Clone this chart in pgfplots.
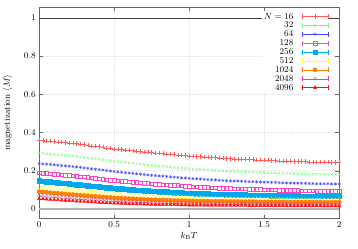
\documentclass[border=0pt]{standalone}
\usepackage{pgfplots}
\pgfplotsset{compat=1.18}
\usepackage{pgfplotstable}
\definecolor{c16}{HTML}{FF5A5A}
\definecolor{c32}{HTML}{70FF70}
\definecolor{c64}{HTML}{4848FF}
\definecolor{c128}{HTML}{FF40C0}
\definecolor{c256}{HTML}{00A8EC}
\definecolor{c512}{HTML}{FFFF38}
\definecolor{c1024}{HTML}{FF8000}
\definecolor{c2048}{HTML}{D84A90}
\definecolor{c4096}{HTML}{FF1010}
\pgfplotstableread{
T m16 m32 m64 m128 m256 m512 m1024 m2048 m4096
0.000 .360 .292 .238 .190 .148 .116 .090 .070 .054
0.025 .358 .291 .236 .188 .146 .114 .089 .069 .053
0.050 .356 .289 .234 .186 .144 .112 .087 .067 .051
0.075 .355 .287 .233 .185 .142 .110 .085 .066 .050
0.100 .353 .285 .231 .183 .140 .108 .083 .064 .049
0.125 .351 .284 .229 .181 .138 .107 .082 .063 .048
0.150 .349 .282 .227 .179 .136 .105 .080 .061 .046
0.175 .348 .280 .226 .178 .134 .103 .078 .060 .045
0.200 .346 .278 .224 .176 .132 .101 .076 .058 .044
0.225 .344 .277 .222 .174 .130 .099 .075 .057 .043
0.250 .342 .275 .220 .172 .128 .097 .073 .055 .041
0.275 .340 .273 .218 .170 .126 .096 .072 .054 .040
0.300 .337 .270 .215 .168 .124 .094 .070 .053 .039
0.325 .334 .268 .213 .166 .122 .092 .069 .052 .038
0.350 .331 .265 .210 .163 .120 .090 .067 .050 .037
0.375 .329 .263 .208 .161 .118 .089 .066 .049 .036
0.400 .326 .260 .206 .159 .116 .087 .064 .048 .034
0.425 .323 .258 .204 .157 .114 .085 .063 .047 .033
0.450 .320 .255 .201 .154 .112 .083 .061 .045 .032
0.475 .318 .253 .199 .152 .110 .082 .060 .044 .031
0.500 .315 .250 .196 .150 .108 .080 .058 .043 .030
0.525 .313 .248 .194 .148 .107 .079 .057 .042 .030
0.550 .311 .246 .192 .146 .105 .077 .056 .041 .029
0.575 .309 .244 .190 .145 .104 .076 .055 .041 .029
0.600 .307 .241 .188 .143 .102 .075 .054 .040 .028
0.625 .305 .239 .186 .141 .101 .074 .053 .039 .027
0.650 .303 .237 .184 .139 .099 .072 .052 .038 .026
0.675 .301 .235 .182 .138 .098 .071 .051 .038 .026
0.700 .299 .232 .180 .136 .096 .070 .050 .037 .025
0.725 .297 .230 .178 .134 .095 .069 .049 .036 .025
0.750 .295 .228 .176 .132 .093 .067 .048 .035 .024
0.775 .294 .226 .175 .131 .092 .066 .048 .035 .024
0.800 .292 .224 .173 .129 .091 .065 .047 .034 .023
0.825 .290 .223 .172 .128 .090 .065 .047 .034 .023
0.850 .288 .221 .170 .126 .089 .064 .046 .033 .022
0.875 .287 .219 .168 .125 .088 .063 .045 .033 .022
0.900 .285 .217 .166 .124 .086 .062 .044 .032 .022
0.925 .283 .216 .165 .123 .085 .061 .044 .032 .022
0.950 .281 .214 .163 .121 .084 .060 .043 .031 .021
0.975 .280 .212 .162 .120 .083 .060 .043 .031 .021
1.000 .278 .210 .160 .118 .082 .059 .042 .030 .020
1.025 .277 .209 .159 .117 .082 .059 .042 .030 .020
1.050 .275 .208 .158 .116 .081 .058 .041 .030 .020
1.075 .274 .207 .157 .115 .081 .058 .041 .030 .020
1.100 .273 .205 .155 .114 .080 .057 .041 .029 .019
1.125 .272 .204 .154 .113 .079 .056 .041 .029 .019
1.150 .270 .203 .153 .112 .078 .055 .040 .029 .019
1.175 .269 .202 .152 .111 .078 .055 .040 .029 .019
1.200 .268 .200 .150 .110 .077 .054 .040 .028 .018
1.225 .267 .199 .149 .109 .077 .054 .040 .028 .018
1.250 .265 .198 .148 .108 .076 .053 .039 .028 .018
1.275 .264 .197 .147 .108 .076 .053 .039 .028 .018
1.300 .263 .196 .146 .107 .075 .052 .039 .028 .018
1.325 .262 .196 .146 .106 .075 .052 .039 .028 .018
1.350 .261 .195 .145 .105 .074 .052 .038 .028 .018
1.375 .260 .194 .144 .105 .074 .052 .038 .028 .018
1.400 .259 .193 .143 .104 .073 .051 .038 .027 .017
1.425 .258 .192 .143 .103 .073 .051 .038 .027 .017
1.450 .257 .191 .142 .102 .072 .051 .037 .027 .017
1.475 .256 .191 .141 .102 .072 .051 .037 .027 .017
1.500 .255 .190 .140 .101 .071 .050 .037 .027 .017
1.525 .255 .190 .140 .101 .071 .050 .037 .027 .017
1.550 .254 .189 .139 .100 .070 .050 .037 .027 .017
1.575 .253 .189 .139 .100 .070 .050 .037 .027 .017
1.600 .252 .188 .138 .099 .070 .049 .037 .026 .017
1.625 .252 .187 .137 .099 .070 .049 .037 .026 .017
1.650 .251 .186 .136 .098 .069 .049 .036 .026 .016
1.675 .250 .186 .136 .098 .069 .049 .036 .026 .016
1.700 .249 .185 .135 .097 .069 .048 .036 .026 .016
1.725 .249 .185 .135 .097 .069 .048 .036 .026 .016
1.750 .248 .184 .134 .096 .068 .048 .036 .026 .016
1.775 .248 .184 .134 .096 .068 .048 .036 .026 .016
1.800 .247 .183 .133 .095 .068 .048 .036 .026 .016
1.825 .247 .183 .133 .095 .068 .048 .036 .026 .016
1.850 .246 .182 .132 .094 .067 .048 .036 .026 .016
1.875 .246 .182 .132 .094 .067 .048 .036 .026 .016
1.900 .245 .182 .132 .094 .067 .047 .035 .025 .015
1.925 .245 .182 .132 .094 .067 .047 .035 .025 .015
1.950 .244 .181 .131 .093 .066 .047 .035 .025 .015
1.975 .244 .181 .131 .093 .066 .047 .035 .025 .015
2.000 .243 .180 .130 .092 .066 .047 .035 .025 .015
}\datatable
\begin{document}
\begin{tikzpicture}
\begin{axis}[
  scale only axis,
  width=302bp, height=213bp,
  xmin=0, xmax=2, ymin=-0.05, ymax=1.057,
  xtick={0,0.5,1,1.5,2},
  ytick={0,0.2,0.4,0.6,0.8,1},
  yticklabels={0,0.2,0.4,0.6,0.8,1},
  xticklabels={0,0.5,1,1.5,2},
  tick align=inside,
  major tick length=4bp,
  axis line style={gray!80!black},
  every tick/.style={gray!80!black},
  grid=major,
  major grid style={dash pattern=on 0.6pt off 1.4pt, gray!25, line width=0.5pt},
  tick label style={font=\small},
  xlabel={$k_\mathrm{B}T$},
  ylabel={magnetization $\langle M\rangle$},
  label style={font=\small},
  xlabel style={yshift=3pt},
  ylabel style={yshift=5pt},
  legend cell align=right,
  legend plot pos=right,
  legend style={at={(0.967,0.982)}, anchor=north east, fill=white, draw=none,
    font=\small, inner sep=1pt,
    nodes={inner sep=0.6pt, text height=6.6pt, text depth=1.2pt}},
  legend image code/.code={
    \path (0pt,0pt);
    \draw[#1, line width=0.4pt] (8pt,0pt) -- (34pt,0pt);
    \draw[#1, line width=0.4pt] (8pt,-2.5pt) -- (8pt,2.5pt);
    \draw[#1, line width=0.4pt] (34pt,-2.5pt) -- (34pt,2.5pt);
    \draw[#1] plot[only marks] coordinates {(21pt,0pt)};
  },
  every axis plot/.append style={only marks},
]
\addplot[sharp plot, no marks, black!75, line width=0.6pt, forget plot] coordinates {(0,1) (2,1)};
\addplot[sharp plot, no marks, gray!60, line width=1.3pt, forget plot] coordinates {(0,0) (2,0)};
\addplot[c16, mark=+, mark size=2.2pt] table[x=T,y=m16]{\datatable};
\addlegendentry{$N=16$}
\addplot[c32, mark=x, mark size=1.7pt] table[x=T,y=m32]{\datatable};
\addlegendentry{$32$}
\addplot[c64, mark=asterisk, mark size=1.7pt] table[x=T,y=m64]{\datatable};
\addlegendentry{$64$}
\addplot[c128, mark=square, mark size=1.8pt] table[x=T,y=m128]{\datatable};
\addlegendentry{$128$}
\addplot[c256, mark=square*, mark size=2.3pt] table[x=T,y=m256]{\datatable};
\addlegendentry{$256$}
\addplot[c512, mark=o, mark size=2pt] table[x=T,y=m512]{\datatable};
\addlegendentry{$512$}
\addplot[c1024, mark=*, mark size=2.2pt] table[x=T,y=m1024]{\datatable};
\addlegendentry{$1024$}
\addplot[c2048, mark=triangle, mark size=1.9pt] table[x=T,y=m2048]{\datatable};
\addlegendentry{$2048$}
\addplot[c4096, mark=triangle*, mark size=1.9pt] table[x=T,y=m4096]{\datatable};
\addlegendentry{$4096$}
\end{axis}
\path (-37bp,-30bp) rectangle (321bp,220bp);
\end{tikzpicture}
\end{document}
